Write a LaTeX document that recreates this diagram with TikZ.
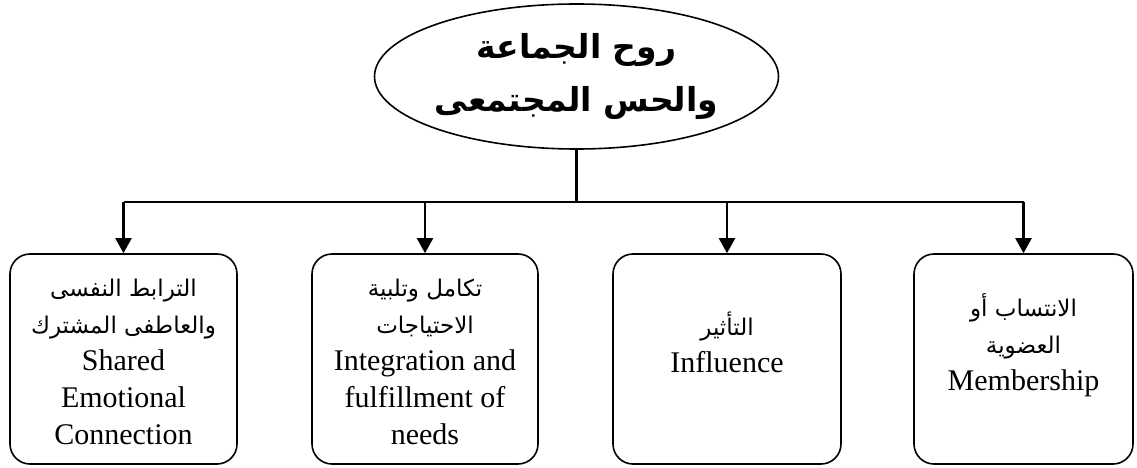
\documentclass[tikz,border=0pt]{standalone}
\usepackage{fontspec}
\setmainfont{Liberation Serif}
\newfontfamily\arabicfont[Script=Arabic]{DejaVu Sans}
\TeXXeTstate=1
\usetikzlibrary{arrows.meta,shapes.geometric}
\newcommand{\ar}[1]{{\arabicfont\fontsize{23}{37}\selectfont\beginR #1\endR}}
\begin{document}
\begin{tikzpicture}[x=1pt,y=-1pt,
  card/.style={draw,line width=1.6pt,rounded corners=20pt,minimum width=#1,minimum height=210pt,inner sep=0pt},
  cardtext/.style={align=center,inner sep=0pt,font=\fontsize{30}{37}\selectfont},
  feed/.style={line width=2.2pt,-{Triangle[length=15pt,width=16pt]}},
  trunk/.style={line width=2.6pt}]
\useasboundingbox (0,0) rectangle (1137,468);

% central concept
\node[ellipse,draw,line width=1.6pt,minimum width=404pt,minimum height=145pt,inner sep=0pt,
      align=center,font={\arabicfont\bfseries\fontsize{33}{53}\selectfont}] (core) at (576.5,76.5)
  {\beginR روح الجماعة\endR\\\beginR والحس المجتمعى\endR};

% four dimensions
\node[card=227pt] (c1) at (123.5,359) {};
\node[card=226pt] (c2) at (425,359) {};
\node[card=228pt] (c3) at (727,359) {};
\node[card=219pt] (c4) at (1023.5,359) {};

\node[cardtext] (t1) at (123.5,362) {\ar{الترابط النفسى}\\\ar{والعاطفى المشترك}\\Shared\\Emotional\\Connection};
\node[cardtext] (t2) at (425,362) {\ar{تكامل وتلبية}\\\ar{الاحتياجات}\\Integration and\\fulfillment of\\needs};
\node[cardtext] (t3) at (727,342) {\ar{التأثير}\\Influence};
\node[cardtext] (t4) at (1023.5,345) {\ar{الانتساب أو}\\\ar{العضوية}\\Membership};

% tree connectors
\coordinate (hub) at (core.south |- 0,202);
\coordinate (barL) at (c1.north |- hub);
\coordinate (barR) at (c4.north |- hub);
\draw[trunk] (core.south) -- (hub);
\draw[trunk] (barL) -- (barR);
\draw[feed] (barL) -- (c1.north);
\draw[feed] (c2.north |- hub) -- (c2.north);
\draw[feed] (c3.north |- hub) -- (c3.north);
\draw[feed] (barR) -- (c4.north);
\end{tikzpicture}
\end{document}
